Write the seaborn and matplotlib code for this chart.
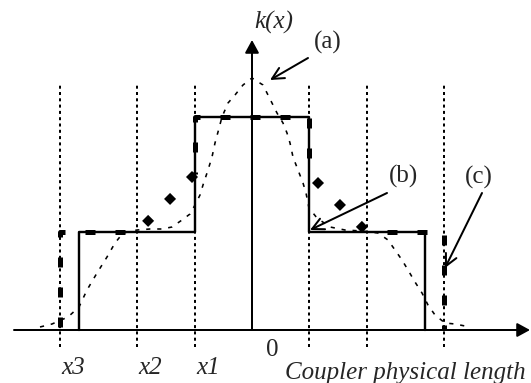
import matplotlib
matplotlib.use("Agg")
import matplotlib.pyplot as plt
import seaborn as sns

# Section boundaries along the coupler, mirrored about the centre
section_edges = [57, 115, 192]
section_labels = ["x1", "x2", "x3"]

# (a) smooth coupling profile
curve_a_x = [-212, -200, -184, -173, -165, -155, -145, -137, -129, -115, -102,
             -90, -80, -70, -62, -57, -52, -49, -44, -40, -37, -34, -30, -24,
             -17, -9, 0, 11, 20, 25, 31, 35, 38, 41, 46, 51, 54, 57, 65, 78,
             93, 110, 126, 136, 143, 150, 156, 163, 170, 176, 183, 193, 203, 213]
curve_a_k = [3, 6, 13, 23, 40, 57, 73, 87, 97, 100, 101,
             101, 103, 110, 116, 125, 135, 145, 160, 173, 187, 198, 213, 227,
             235, 245, 252, 245, 227, 217, 207, 197, 187, 173, 160, 147, 137, 122, 112, 103,
             100, 99, 97, 90, 80, 70, 60, 48, 37, 25, 15, 7, 6, 4]

# (b) stepped coupling profile
curve_b_x = [-173, -173, -57, -57, 57, 57, 173, 173]
curve_b_k = [0, 98, 98, 213, 213, 98, 98, 0]

# (c) piecewise-linear coupling profile
curve_c_x = [-192, -192, -115, -57, -57, 57, 57, 115, 192, 192]
curve_c_k = [0, 98, 98, 156, 213, 213, 156, 98, 98, 0]

# Axis extents
x_axis_start, x_axis_end = -238, 278
y_axis_end = 290
grid_top, grid_bottom = 247, -17

PX = 0.72  # points per pixel at 100 dpi

sns.set_theme(style="white")
serif = ["Liberation Serif", "DejaVu Serif"]
plt.rcParams["font.family"] = serif

fig = plt.figure(figsize=(5.31, 3.83), dpi=100)
ax = fig.add_axes([0, 0, 1, 1])

# dotted section boundaries
edges = [-e for e in section_edges] + section_edges
ax.vlines(edges, grid_bottom, grid_top, colors="black",
          linewidth=2 * PX, linestyles=[(0, (1.5, 1.65))])

# (a) thin dashed smooth curve
sns.lineplot(x=curve_a_x, y=curve_a_k, ax=ax, sort=False, estimator=None,
             color="black", linewidth=1.6 * PX, linestyle=(0, (2.6, 4.3)))

# (b) solid step
sns.lineplot(x=curve_b_x, y=curve_b_k, ax=ax, sort=False, estimator=None,
             color="black", linewidth=2.4 * PX)


# (c) heavy dashed profile: split into axis-aligned runs and sloped runs
def split_runs(xs, ys):
    pieces = []
    cur = [0]
    prev = None
    for i in range(len(xs) - 1):
        diag = xs[i] != xs[i + 1] and ys[i] != ys[i + 1]
        if prev is None or diag == prev:
            cur.append(i + 1)
        else:
            pieces.append((prev, cur))
            cur = [i, i + 1]
        prev = diag
    pieces.append((prev, cur))
    return pieces


straight_offsets = iter([5.4, 1.6, 2.0])
sloped_offsets = iter([2.3, 2.65])
for sloped, idx in split_runs(curve_c_x, curve_c_k):
    xs = [curve_c_x[i] for i in idx]
    ys = [curve_c_k[i] for i in idx]
    if sloped:
        lw, ls = 8.5 * PX, (next(sloped_offsets), (1.0, 2.65))
    else:
        lw, ls = 5 * PX, (next(straight_offsets), (2.0, 4.0))
    sns.lineplot(x=xs, y=ys, ax=ax, sort=False, estimator=None,
                 color="black", linewidth=lw, linestyle=ls)

# axes with arrow heads
axis_arrow = dict(arrowstyle="-|>,head_length=0.55,head_width=0.3",
                  color="black", lw=2 * PX, mutation_scale=14,
                  shrinkA=0, shrinkB=0)
ax.annotate("", xy=(x_axis_end, 0), xytext=(x_axis_start, 0),
            arrowprops=axis_arrow)
ax.annotate("", xy=(0, y_axis_end), xytext=(0, 0), arrowprops=axis_arrow)

# labels
txt = dict(family=serif, fontsize=18, ha="center", va="center")
ax.text(22, 308, "k(x)", style="italic", **txt)
for edge, lab in zip(section_edges, section_labels):
    ax.text(-edge + 13, -38, lab, style="italic", **txt)
ax.text(20, -20, "0", **txt)
ax.text(153, -43, "Coupler physical length", style="italic", **txt)

# callouts
pointer = dict(arrowstyle="->,head_length=0.6,head_width=0.3", color="black",
               lw=2 * PX, mutation_scale=14, shrinkA=0, shrinkB=0)
ax.text(76, 288, "(a)", **txt)
ax.annotate("", xy=(18, 250), xytext=(56, 272), arrowprops=pointer)
ax.text(152, 154, "(b)", **txt)
ax.annotate("", xy=(58, 100), xytext=(135, 137), arrowprops=pointer)
ax.text(227, 153, "(c)", **txt)
ax.annotate("", xy=(193, 62), xytext=(230, 137), arrowprops=pointer)

ax.set_xlim(-252, 279)
ax.set_ylim(-53, 330)
ax.axis("off")

fig.savefig("out.png", dpi=100)
